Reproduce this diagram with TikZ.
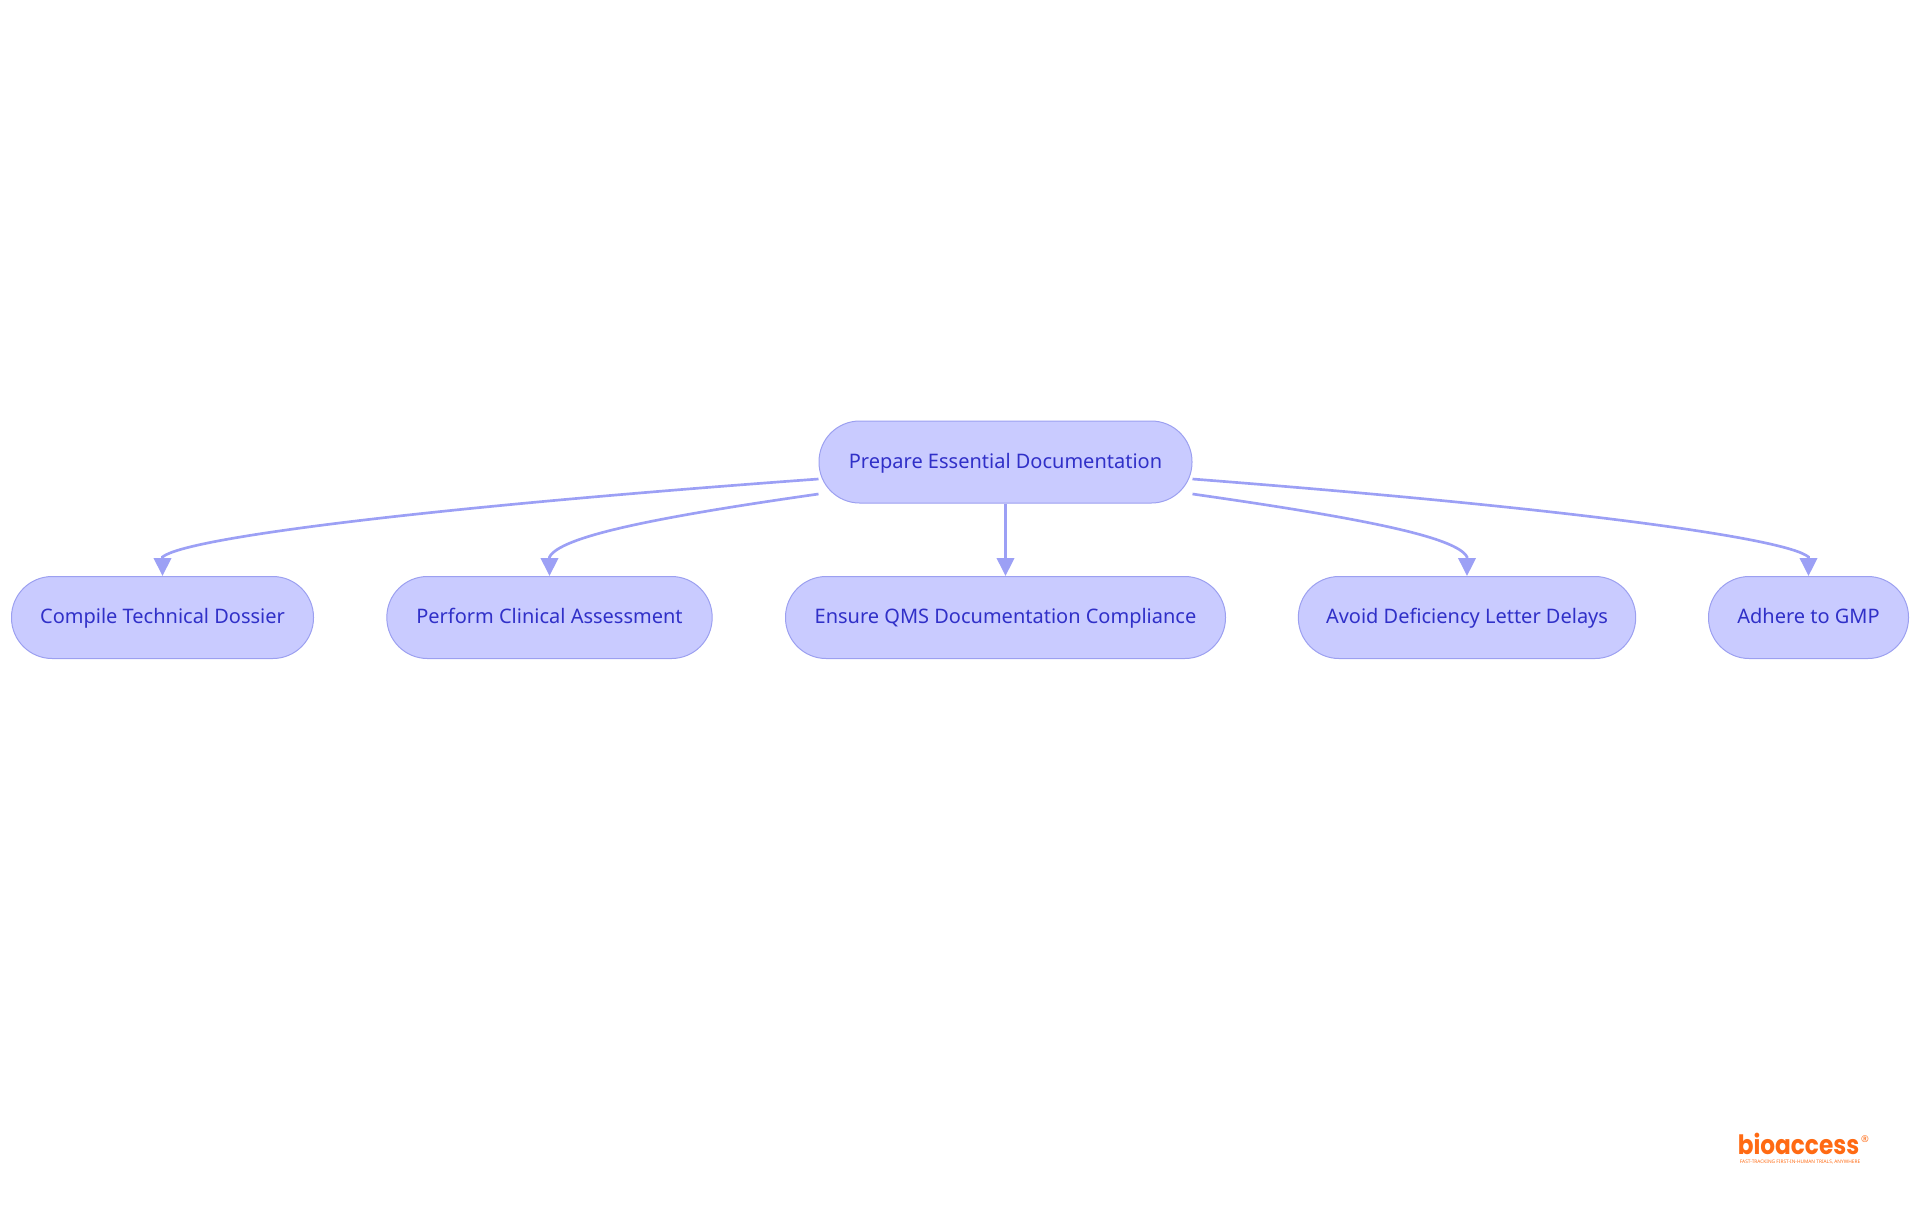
\documentclass[tikz,border=0pt]{standalone}
\usepackage{fontspec}
\setmainfont{Noto Sans}
\newfontfamily\logofont[FakeStretch=0.87]{Poppins}
\usepackage{xcolor}
\usetikzlibrary{arrows.meta,calc}
\definecolor{boxfill}{RGB}{201, 203, 255}
\definecolor{boxline}{RGB}{156, 160, 240}
\definecolor{boxtext}{RGB}{48, 48, 200}
\definecolor{linkcolor}{RGB}{156, 160, 245}
\definecolor{logocolor}{RGB}{255, 106, 19}
\begin{document}
\begin{tikzpicture}[
    x=0.75pt, y=-0.75pt,
    task/.style={rectangle, draw=boxline, fill=boxfill, line width=0.75pt, rounded corners=30.5pt, text=boxtext, font=\fontsize{15}{18}\selectfont, inner sep=0pt, text height=12pt, text depth=3pt, minimum height=61.5pt},
    link/.style={draw=linkcolor, line width=2pt, -{Triangle[length=13.5pt,width=13pt]}},
    logo/.style={text=logocolor, inner sep=0pt}
]
\useasboundingbox (0,0) rectangle (1920,1215);

\node[task, minimum width=279.75pt] (prep) at (1005.5,462) {Prepare Essential Documentation};
\node[task, minimum width=226.5pt] (dossier) at (162.5,617.5) {Compile Technical Dossier};
\node[task, minimum width=244pt] (clinical) at (549.5,617.5) {Perform Clinical Assessment};
\node[task, minimum width=330pt] (qms) at (1005.5,617.5) {Ensure QMS Documentation Compliance};
\node[task, minimum width=253pt] (letter) at (1467,617.5) {Avoid Deficiency Letter Delays};
\node[task, minimum width=150pt] (gmp) at (1808.5,617.5) {Adhere to GMP};

\draw[link] ([yshift=-12.75pt]prep.west) .. controls (420,508) and (185,538) .. (162.5,557) -- (dossier.north);
\draw[link] ([yshift=-24pt]prep.west) .. controls (650,518) and (560,537) .. (549.5,557) -- (clinical.north);
\draw[link] (prep) -- (qms);
\draw[link] ([yshift=-24pt]prep.east) .. controls (1361,518) and (1457,537) .. (1467,557) -- (letter.north);
\draw[link] ([yshift=-12.75pt]prep.east) .. controls (1567,508) and (1786.5,538) .. (1808.5,557) -- (gmp.north);

\node[logo, font=\logofont\bfseries\fontsize{20}{20}\selectfont] (brand) at (1798.5,1144) {bioaccess};
\node[logo, font=\fontsize{7}{7}\selectfont] (regmark) at (1865,1139) {®};
\node[logo, font=\bfseries\fontsize{3.6}{4}\selectfont] (tagline) at (1800,1162) {FAST-TRACKING FIRST-IN-HUMAN TRIALS, ANYWHERE};
\end{tikzpicture}
\end{document}
